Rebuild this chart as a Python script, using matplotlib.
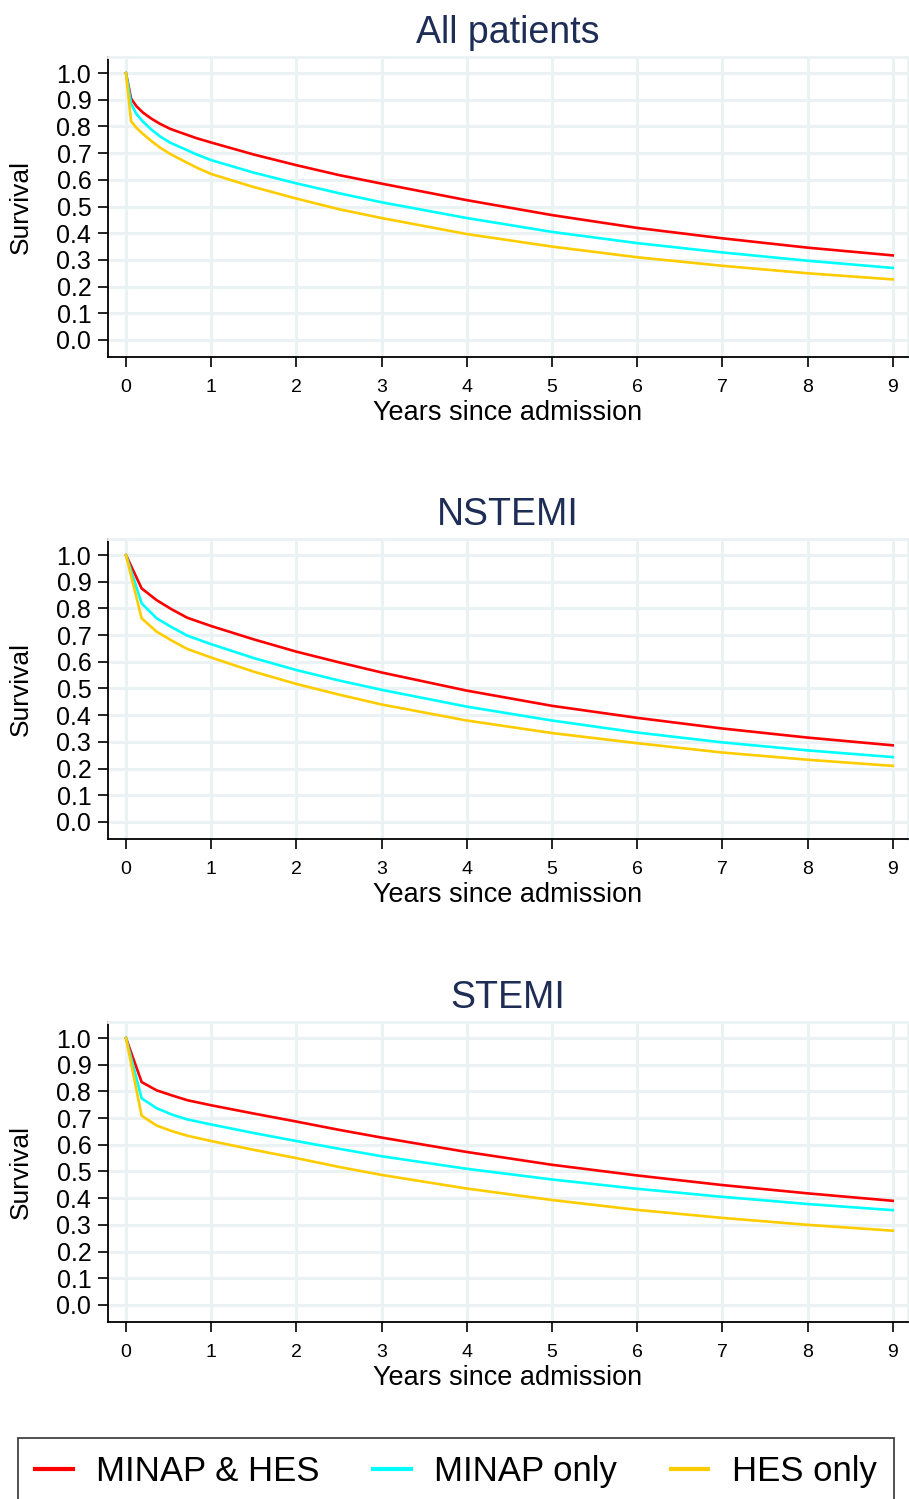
import numpy as np
import matplotlib.pyplot as plt

plt.rcParams['font.family'] = ['Liberation Sans', 'DejaVu Sans']

titles = ['All patients', 'NSTEMI', 'STEMI']
groups = ['MINAP & HES', 'MINAP only', 'HES only']
colors = ['#ff0000', '#00ffff', '#ffcc00']

# years since admission
years_all = [0, 0.06, 0.12, 0.2, 0.3, 0.4, 0.52, 0.67, 0.83, 1, 1.5, 2, 2.5, 3, 4, 5, 6, 7, 8, 9]
years_sub = [0, 0.184, 0.36, 0.54, 0.72, 1, 1.5, 2, 2.5, 3, 4, 5, 6, 7, 8, 9]

# All patients
all_both = [1.0, 0.905, 0.877, 0.852, 0.829, 0.81, 0.791, 0.774, 0.756, 0.74, 0.695, 0.655, 0.618, 0.586, 0.524, 0.468, 0.42, 0.381, 0.346, 0.317]
all_minap = [1.0, 0.886, 0.848, 0.818, 0.788, 0.763, 0.739, 0.718, 0.695, 0.674, 0.627, 0.587, 0.55, 0.516, 0.457, 0.405, 0.363, 0.328, 0.297, 0.27]
all_hes = [1.0, 0.82, 0.796, 0.772, 0.745, 0.721, 0.697, 0.672, 0.646, 0.622, 0.573, 0.53, 0.49, 0.457, 0.397, 0.35, 0.31, 0.278, 0.25, 0.227]

# NSTEMI
nst_both = [1.0, 0.875, 0.831, 0.796, 0.765, 0.734, 0.684, 0.638, 0.598, 0.56, 0.492, 0.435, 0.39, 0.35, 0.316, 0.287]
nst_minap = [1.0, 0.819, 0.763, 0.729, 0.698, 0.666, 0.614, 0.569, 0.53, 0.495, 0.432, 0.38, 0.335, 0.298, 0.268, 0.243]
nst_hes = [1.0, 0.763, 0.713, 0.679, 0.648, 0.616, 0.563, 0.517, 0.477, 0.44, 0.38, 0.333, 0.295, 0.26, 0.233, 0.21]

# STEMI
st_both = [1.0, 0.835, 0.804, 0.785, 0.767, 0.748, 0.717, 0.687, 0.656, 0.627, 0.573, 0.525, 0.485, 0.449, 0.418, 0.39]
st_minap = [1.0, 0.774, 0.737, 0.713, 0.695, 0.676, 0.644, 0.614, 0.585, 0.557, 0.51, 0.47, 0.435, 0.405, 0.378, 0.355]
st_hes = [1.0, 0.709, 0.672, 0.651, 0.634, 0.614, 0.581, 0.55, 0.517, 0.487, 0.436, 0.393, 0.356, 0.326, 0.3, 0.278]

panels = [
    (years_all, [all_both, all_minap, all_hes]),
    (years_sub, [nst_both, nst_minap, nst_hes]),
    (years_sub, [st_both, st_minap, st_hes]),
]

grid_col = '#eaf2f3'
title_col = '#1e2d55'

fig = plt.figure(figsize=(9.09, 14.99), dpi=100)
bottoms = [0.7618, 0.4403, 0.1181]
lines = []
for i, (t, (x, ys)) in enumerate(zip(titles, panels)):
    ax = fig.add_axes([0.1188, bottoms[i], 0.880, 0.2001])
    for y, c, g in zip(ys, colors, groups):
        ln, = ax.plot(x, y, color=c, lw=1.9, label=g, zorder=3)
        if i == 0:
            lines.append(ln)
    ax.set_xlim(-0.211, 9.178)
    ax.set_ylim(-0.064, 1.06)
    ax.set_xticks(range(10))
    ax.set_yticks(np.arange(0, 1.01, 0.1))
    ax.set_yticklabels(['%.1f' % v for v in np.arange(0, 1.01, 0.1)])
    ax.grid(True, color=grid_col, lw=2.2, zorder=0)
    ax.set_axisbelow(True)
    for s in ['top', 'right']:
        ax.spines[s].set_color(grid_col)
        ax.spines[s].set_linewidth(2)
    for s in ['left', 'bottom']:
        ax.spines[s].set_linewidth(1.3)
    ax.tick_params(axis='y', labelsize=18, length=7, width=1.2, pad=5)
    ax.tick_params(axis='x', labelsize=14, length=7, width=1.2, pad=9)
    ax.set_xlabel('Years since admission', fontsize=19.5, labelpad=3)
    ax.set_ylabel('Survival', fontsize=19, labelpad=17)
    ax.set_title(t, fontsize=27, color=title_col, pad=10)

leg = fig.legend(handles=lines, labels=groups, loc='upper left',
                 bbox_to_anchor=(18 / 909, 1 - 1438 / 1499),
                 ncol=3, fontsize=25, frameon=True, fancybox=False,
                 handlelength=1.07, handletextpad=0.68, columnspacing=1.55,
                 borderpad=0.5, borderaxespad=0)
leg.get_frame().set_edgecolor('black')
leg.get_frame().set_linewidth(1.2)
for ln in leg.get_lines():
    ln.set_linewidth(3)

fig.savefig('out.png', dpi=100)
